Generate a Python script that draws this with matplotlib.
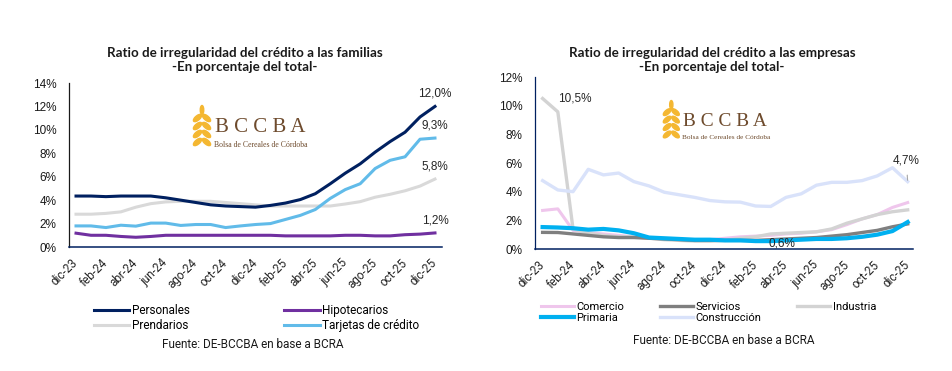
import matplotlib.pyplot as plt
from matplotlib.patches import Ellipse
from matplotlib.lines import Line2D

months = ['dic-23', 'ene-24', 'feb-24', 'mar-24', 'abr-24', 'may-24', 'jun-24',
          'jul-24', 'ago-24', 'sep-24', 'oct-24', 'nov-24', 'dic-24', 'ene-25',
          'feb-25', 'mar-25', 'abr-25', 'may-25', 'jun-25', 'jul-25', 'ago-25',
          'sep-25', 'oct-25', 'nov-25', 'dic-25']

# familias
personales = [4.35, 4.35, 4.3, 4.35, 4.35, 4.35, 4.2, 4.0, 3.8, 3.6, 3.5, 3.45, 3.4,
              3.55, 3.75, 4.05, 4.55, 5.4, 6.3, 7.1, 8.1, 9.0, 9.8, 11.1, 12.0]
hipotecarios = [1.18, 1.0, 1.0, 0.9, 0.83, 0.9, 1.0, 1.0, 1.0, 1.0, 1.0, 1.0, 1.0,
                1.0, 0.95, 0.95, 0.95, 0.95, 1.0, 1.0, 0.95, 0.95, 1.05, 1.1, 1.2]
prendarios = [2.8, 2.8, 2.87, 3.0, 3.4, 3.7, 3.85, 3.9, 3.9, 3.9, 3.8, 3.7, 3.6,
              3.5, 3.5, 3.5, 3.5, 3.5, 3.67, 3.87, 4.25, 4.5, 4.8, 5.2, 5.8]
tarjetas = [1.8, 1.8, 1.66, 1.86, 1.78, 2.04, 2.04, 1.84, 1.92, 1.92, 1.66, 1.8, 1.92,
            2.0, 2.35, 2.7, 3.2, 4.15, 4.9, 5.4, 6.7, 7.4, 7.7, 9.2, 9.3]

# empresas
comercio = [2.69, 2.8, 1.3, 1.15, 1.05, 0.95, 0.85, 0.75, 0.7, 0.65, 0.6, 0.65, 0.75,
            0.85, 0.9, 0.95, 1.05, 1.1, 1.2, 1.35, 1.7, 2.1, 2.4, 2.9, 3.24]
servicios = [1.16, 1.15, 1.05, 0.95, 0.85, 0.8, 0.8, 0.75, 0.7, 0.65, 0.6, 0.6, 0.6,
             0.6, 0.6, 0.65, 0.7, 0.75, 0.8, 0.9, 1.0, 1.15, 1.3, 1.55, 1.75]
industria = [10.5, 9.57, 1.4, 1.1, 0.95, 0.85, 0.85, 0.75, 0.65, 0.6, 0.55, 0.55, 0.6,
             0.75, 0.85, 1.05, 1.1, 1.15, 1.2, 1.4, 1.8, 2.1, 2.4, 2.6, 2.73]
primaria = [1.53, 1.5, 1.45, 1.35, 1.4, 1.3, 1.1, 0.8, 0.75, 0.7, 0.65, 0.65, 0.6,
            0.6, 0.55, 0.55, 0.6, 0.65, 0.7, 0.7, 0.75, 0.85, 1.0, 1.25, 1.88]
construccion = [4.77, 4.12, 4.0, 5.56, 5.17, 5.3, 4.7, 4.4, 3.96, 3.78, 3.6, 3.38, 3.29,
                3.27, 3.0, 2.97, 3.6, 3.85, 4.45, 4.65, 4.65, 4.77, 5.1, 5.67, 4.7]

NAVY = '#002060'
NARROW = ['Liberation Sans Narrow', 'Roboto', 'DejaVu Sans']
SANS = ['Liberation Sans', 'DejaVu Sans']

W, H = 952, 371


def fx(px):
    return px / W


def fy(py):
    return 1 - py / H


def draw_logo(fig, px, py, s):
    # espiga + texto, px/py = esquina sup. izq. de la espiga en pixeles
    gold = '#f4b731'
    cx = px + 10 * s
    tr = fig.dpi_scale_trans
    for k in range(4):
        yy = py + (12 + 8 * k) * s
        for side in (-1, 1):
            e = Ellipse(((cx + side * 4.5 * s) / 100, (H - yy) / 100),
                        10 * s / 100, 4.5 * s / 100, angle=-side * 40,
                        transform=tr, color=gold, zorder=0)
            fig.patches.append(e)
    e = Ellipse((cx / 100, (H - py - 4 * s) / 100), 3.5 * s / 100, 9 * s / 100,
                transform=tr, color=gold, zorder=0)
    fig.patches.append(e)
    fig.add_artist(Line2D([cx / 100, cx / 100], [(H - py - 8 * s) / 100, (H - py - 44 * s) / 100],
                          transform=tr, color=gold, lw=1.2 * s, zorder=0))
    fig.text(fx(px + 23 * s), fy(py + 22 * s), 'B C C B A', family='Liberation Serif',
             fontsize=15 * s, color='#6e4b2d', va='center', ha='left')
    fig.text(fx(px + 22 * s), fy(py + 39 * s), 'Bolsa de Cereales de Córdoba',
             family='Liberation Serif', fontsize=5.6 * s, color='#6e4b2d', va='center', ha='left')


def style_axis(ax, ymax):
    ax.set_ylim(0, ymax)
    ax.set_yticks(range(0, ymax + 1, 2))
    ax.set_yticklabels([f'{v}%' for v in range(0, ymax + 1, 2)], family=SANS, fontsize=8.5,
                       color='#1a1a1a')
    ax.set_xticks(range(0, len(months), 2))
    ax.set_xticklabels(months[::2], rotation=45, ha='right', va='center', rotation_mode='anchor',
                       family=NARROW, fontsize=8.5, color='#262626')
    ax.tick_params(length=0)
    ax.tick_params(axis='x', pad=10)
    ax.tick_params(axis='y', pad=9)
    ax.spines['top'].set_visible(False)
    ax.spines['right'].set_visible(False)
    ax.spines['bottom'].set_color(NAVY)
    ax.spines['bottom'].set_linewidth(1.1)
    ax.spines['left'].set_linewidth(0.9)


fig = plt.figure(figsize=(W / 100, H / 100), dpi=100)

# ---- familias ----
ax1 = fig.add_axes([fx(69), fy(247), fx(442) - fx(69), fy(83) - fy(247)])
x = list(range(len(months)))
l_pre, = ax1.plot(x, prendarios, color='#d9d9d9', lw=2.2, label='Prendarios')
l_tar, = ax1.plot(x, tarjetas, color='#61bbe9', lw=2.2, label='Tarjetas de crédito')
l_hip, = ax1.plot(x, hipotecarios, color='#7030a0', lw=2.2, label='Hipotecarios')
l_per, = ax1.plot(x, personales, color=NAVY, lw=2.2, label='Personales')
ax1.set_xlim(-0.47, 24.47)
style_axis(ax1, 14)
ax1.spines['left'].set_color('#1a1a1a')
for serie in (personales, tarjetas, prendarios, hipotecarios):
    ax1.annotate(f'{serie[-1]:.1f}%'.replace('.', ','), xy=(24, serie[-1]), xytext=(0, 9),
                 textcoords='offset points', ha='center', va='center',
                 family=SANS, fontsize=8.5, color='#262626')
ax1.legend(handles=[l_per, l_pre, l_hip, l_tar], loc='upper left',
           bbox_to_anchor=(fx(94), fy(304)), bbox_transform=fig.transFigure, ncol=2,
           frameon=False, handlelength=3.0, handletextpad=0.2, columnspacing=8.0,
           borderaxespad=0, borderpad=0, labelspacing=0.15,
           prop={'family': NARROW, 'size': 8.5})
fig.text(fx(245), fy(60), 'Ratio de irregularidad del crédito a las familias\n-En porcentaje del total-',
         ha='center', va='center', family=['Lato', 'DejaVu Sans'], weight='bold',
         fontsize=9.6, linespacing=1.25, color='#1a1a1a')
fig.text(fx(253), fy(345), 'Fuente: DE-BCCBA en base a BCRA', ha='center', va='center',
         family=NARROW, fontsize=8.5, color='#1a1a1a')
draw_logo(fig, 192, 106, 1.0)

# ---- empresas ----
ax2 = fig.add_axes([fx(535), fy(249), fx(913) - fx(535), fy(77) - fy(249)])
l_com, = ax2.plot(x, comercio, color='#efc6ec', lw=2.2, label='Comercio')
l_ind, = ax2.plot(x, industria, color='#d3d3d3', lw=2.4, label='Industria')
l_con, = ax2.plot(x, construccion, color='#d9e2fa', lw=2.4, label='Construcción')
l_ser, = ax2.plot(x, servicios, color='#7f7f7f', lw=2.4, label='Servicios')
l_pri, = ax2.plot(x, primaria, color='#00b0f0', lw=3.0, label='Primaria')
ax2.set_xlim(-0.5, 24.35)
style_axis(ax2, 12)
ax2.spines['left'].set_color(NAVY)
ax2.annotate(f'{industria[0]:.1f}%'.replace('.', ','), xy=(0, industria[0]), xytext=(11, 0),
             textcoords='offset points', ha='left', va='center',
             family=SANS, fontsize=8.5, color='#262626')
ax2.annotate(f'{primaria[15]:.1f}%'.replace('.', ','), xy=(15, primaria[15]), xytext=(8, -1.5),
             textcoords='offset points', ha='center', va='center',
             family=SANS, fontsize=8.5, color='#262626')
ax2.annotate(f'{construccion[-1]:.1f}%'.replace('.', ','), xy=(24, construccion[-1]),
             xytext=(-1, 15), textcoords='offset points', ha='center', va='center',
             family=SANS, fontsize=8.5, color='#262626',
             arrowprops=dict(arrowstyle='-', color='#a6a6a6', lw=0.8, shrinkA=4, shrinkB=1))
ax2.legend(handles=[l_com, l_pri, l_ser, l_con, l_ind], loc='upper left',
           bbox_to_anchor=(fx(541), fy(302)), bbox_transform=fig.transFigure, ncol=3,
           frameon=False, handlelength=3.0, handletextpad=0.2, columnspacing=3.2,
           borderaxespad=0, borderpad=0, labelspacing=0.1,
           prop={'family': NARROW, 'size': 8})
fig.text(fx(712), fy(60), 'Ratio de irregularidad del crédito a las empresas\n-En porcentaje del total-',
         ha='center', va='center', family=['Lato', 'DejaVu Sans'], weight='bold',
         fontsize=9.6, linespacing=1.25, color='#1a1a1a')
fig.text(fx(724), fy(340), 'Fuente: DE-BCCBA en base a BCRA', ha='center', va='center',
         family=NARROW, fontsize=8.5, color='#1a1a1a')
draw_logo(fig, 662, 101, 0.93)

fig.savefig('out.png', dpi=100, facecolor='white')
